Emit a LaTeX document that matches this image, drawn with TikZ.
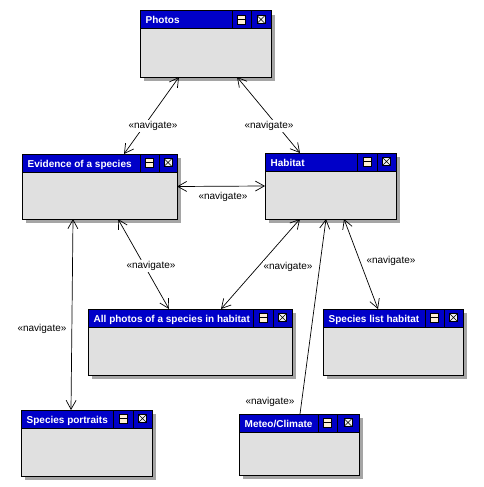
\documentclass[tikz,border=0pt]{standalone}
\usepackage{fontspec}
\setmainfont{Liberation Sans}
\usetikzlibrary{arrows.meta}
\definecolor{hdrc}{RGB}{0,0,200}
\definecolor{bodyc}{RGB}{224,224,224}
\definecolor{shadc}{RGB}{165,165,165}
\definecolor{iconac}{RGB}{255,240,212}
\definecolor{iconbc}{RGB}{240,240,240}
\tikzset{
  win/.style={draw=black, fill=bodyc, line width=1pt, rectangle, inner sep=0pt, outer sep=0pt},
  wintitle/.style={text=white, font=\fontsize{10}{12}\selectfont\bfseries, anchor=base west, inner sep=0pt},
  navlbl/.style={font=\fontsize{10}{12}\selectfont, inner sep=1pt, fill=white},
  navtip/.tip={Straight Barb[length=9pt,width=10pt]},
  nav/.style={draw=black, line width=0.7pt, navtip-navtip},
  navone/.style={draw=black, line width=0.7pt, -navtip}
}
% #1 name, #2 x1, #3 y1, #4 x2, #5 y2, #6 div1, #7 div2, #8 title
\newcommand\umlwin[8]{%
  \fill[shadc] (#2+4,#3+4) rectangle (#4+4,#5+4);
  \node[win, minimum width={(#4-#2)*1pt}, minimum height={(#5-#3)*1pt}] (#1) at ({(#2+#4)/2},{(#3+#5)/2}) {};
  \fill[hdrc] (#2,#3) rectangle (#4,#3+18);
  \draw[line width=1pt] (#2,#3) rectangle (#4,#5);
  \draw[line width=1pt] (#2,#3+18) -- (#4,#3+18) (#6,#3) -- (#6,#3+18) (#7,#3) -- (#7,#3+18);
  \node[wintitle] (#1-title) at (#2+5.5,#3+13) {#8};
  \pgfmathsetmacro\ica{(#6+#7)/2}\pgfmathsetmacro\icb{(#7+#4)/2}\pgfmathsetmacro\icy{#3+8.5}%
  \draw[line width=0.8pt, fill=iconac] (\ica-4,\icy-4.5) rectangle (\ica+4,\icy+4.5);
  \draw[line width=0.8pt] (\ica-4,\icy) -- (\ica+4,\icy);
  \draw[line width=0.8pt, fill=iconbc] (\icb-4,\icy-4) rectangle (\icb+4,\icy+4);
  \draw[line width=0.6pt] (\icb-4,\icy-4) -- (\icb+4,\icy+4) (\icb-4,\icy+4) -- (\icb+4,\icy-4);
}
\begin{document}
\begin{tikzpicture}[x=1pt,y=-1pt]
\fill[white] (0,0) rectangle (484,487);
\useasboundingbox (0,0) rectangle (484,487);

\umlwin{photos}{140}{11}{271}{77}{232}{251}{Photos}
\umlwin{evidence}{22}{154}{177}{219}{140}{159}{Evidence of a species}
\umlwin{habitat}{265}{153}{396}{219}{357}{377}{Habitat}
\umlwin{allphotos}{88}{309}{292}{375}{253}{273}{All photos of a species in habitat}
\umlwin{specieslist}{323}{309}{463}{375}{425}{444}{Species list habitat}
\umlwin{portraits}{21}{410}{152}{476}{113}{133}{Species portraits}
\umlwin{meteo}{239}{414}{359}{475}{318}{337}{Meteo/Climate}

\draw[nav] ([xshift=39pt]photos.south west) -- ([xshift=102pt]evidence.north west);
\draw[nav] ([xshift=97pt]photos.south west) -- ([xshift=35pt]habitat.north west);
\draw[nav] (evidence.east) -- (habitat.west);
\draw[nav] ([xshift=96pt]evidence.south west) -- ([xshift=81pt]allphotos.north west);
\draw[nav] ([xshift=51pt]evidence.south west) -- ([xshift=50pt]portraits.north west);
\draw[nav] ([xshift=35pt]habitat.south west) -- ([xshift=133pt]allphotos.north west);
\draw[navone] ([xshift=61pt]meteo.north west) -- ([xshift=61pt]habitat.south west);
\draw[nav] ([xshift=79pt]habitat.south west) -- ([xshift=55pt]specieslist.north west);

\node[navlbl] (l1) at (153,126) {«navigate»};
\node[navlbl] (l2) at (269,126) {«navigate»};
\node[navlbl] (l3) at (223,197) {«navigate»};
\node[navlbl] (l4) at (151,266) {«navigate»};
\node[navlbl] (l5) at (42,329) {«navigate»};
\node[navlbl] (l6) at (288,267) {«navigate»};
\node[navlbl] (l7) at (270,402) {«navigate»};
\node[navlbl] (l8) at (391,261) {«navigate»};
\end{tikzpicture}
\end{document}
